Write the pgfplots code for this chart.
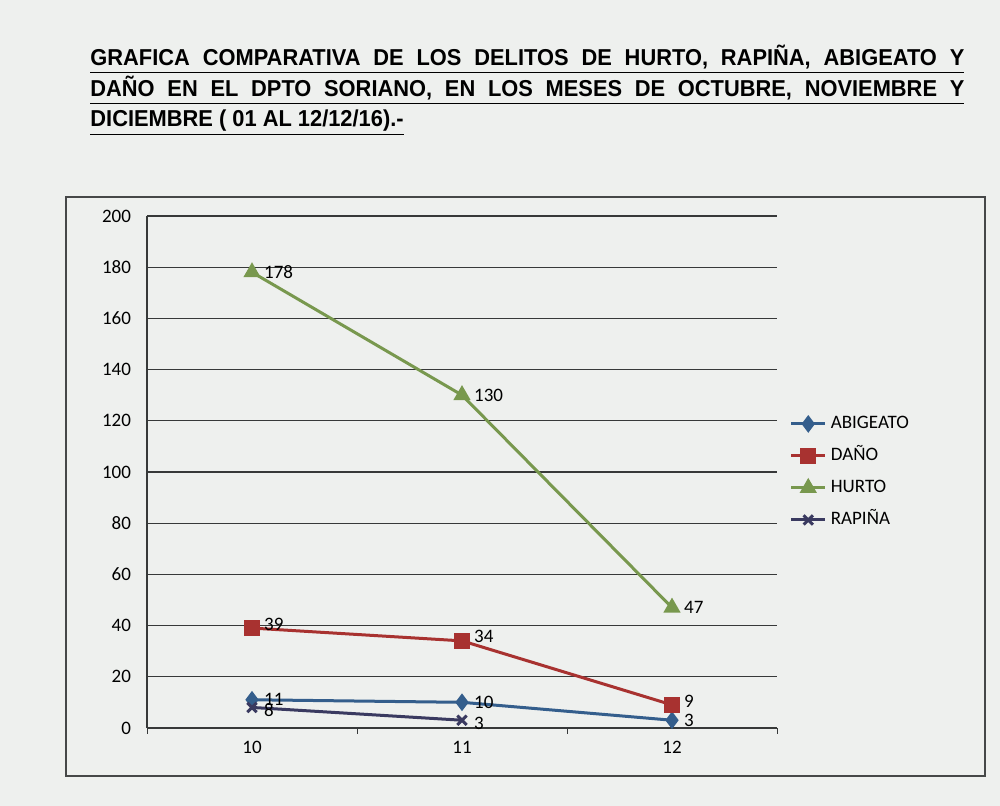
\documentclass[border=0pt]{standalone}
\usepackage{fontspec}
\setmainfont{Carlito}
\newfontfamily\titlefont[FakeStretch=0.95]{Liberation Sans}
\usepackage{pgfplots}
\pgfplotsset{compat=1.18}
\definecolor{paper}{RGB}{238,240,238}
\definecolor{framegray}{RGB}{70,72,72}
\definecolor{gridgray}{RGB}{55,57,57}
\definecolor{abigeato}{RGB}{52,94,140}
\definecolor{dano}{RGB}{168,50,48}
\definecolor{hurto}{RGB}{120,152,78}
\definecolor{rapina}{RGB}{58,58,96}
\newcommand{\tickfont}{\fontsize{9.5}{11}\selectfont}
\begin{document}
\begin{tikzpicture}[x=1pt,y=1pt]
\fill[paper] (0,0) rectangle (500,403);
\draw[framegray, line width=0.7pt] (33,15) rectangle (492.5,304.5);
\begin{scope}[every node/.style={anchor=base west, inner sep=0pt, font=\titlefont\bfseries\fontsize{11.5}{13}\selectfont}]
\node at (45,370) {\underline{\makebox[437pt][s]{GRAFICA COMPARATIVA DE LOS DELITOS DE HURTO, RAPIÑA, ABIGEATO Y}}};
\node at (45,354.5) {\underline{\makebox[437pt][s]{DAÑO EN EL DPTO SORIANO, EN LOS MESES DE OCTUBRE, NOVIEMBRE Y}}};
\node at (45,339.5) {\underline{DICIEMBRE ( 01 AL 12/12/16).-}};
\end{scope}
\begin{axis}[
    at={(70,30.5)}, anchor=south west,
    scale only axis, width=315pt, height=256pt,
    xmin=9.5, xmax=12.5, ymin=0, ymax=200,
    xtick={10,11,12}, ytick={0,20,...,200},
    minor xtick={9.5,10.5,11.5,12.5},
    axis x line*=bottom, axis y line*=left,
    axis line style={gridgray, line width=0.6pt},
    ymajorgrids, grid style={gridgray, line width=0.6pt},
    major tick length=0pt, minor tick length=3pt, tick align=outside,
    minor tick style={gridgray},
    tick label style={font=\tickfont},
    /pgf/number format/assume math mode=true,
    yticklabel style={xshift=-4.5pt},
    xticklabel style={yshift=-3pt},
    clip=false,
    nodes near coords,
    every node near coord/.append style={anchor=west, xshift=2pt, font=\tickfont, text=black},
    legend style={at={(1.01,0.5)}, anchor=west, draw=none, fill=none,
        font=\tickfont, row sep=3pt,
        nodes={text height=7pt, text depth=2pt, inner sep=2pt}},
    legend cell align=left,
]
\addplot[abigeato, line width=1.5pt, mark=diamond*, mark size=3.2pt] coordinates {
    (10,11) (11,10) (12,3)
};
\addlegendentry{ABIGEATO}
\addplot[dano, line width=1.5pt, mark=square*, mark size=3.3pt,
    every node near coord/.append style={yshift=2pt}] coordinates {
    (10,39) (11,34) (12,9)
};
\addlegendentry{DAÑO}
\addplot[hurto, line width=1.5pt, mark=triangle*, mark size=3.5pt] coordinates {
    (10,178) (11,130) (12,47)
};
\addlegendentry{HURTO}
\addplot[rapina, line width=1.5pt, mark=x, mark size=3.3pt,
    every node near coord/.append style={yshift=-1.5pt}] coordinates {
    (10,8) (11,3)
};
\addlegendentry{RAPIÑA}
\end{axis}
\end{tikzpicture}
\end{document}
